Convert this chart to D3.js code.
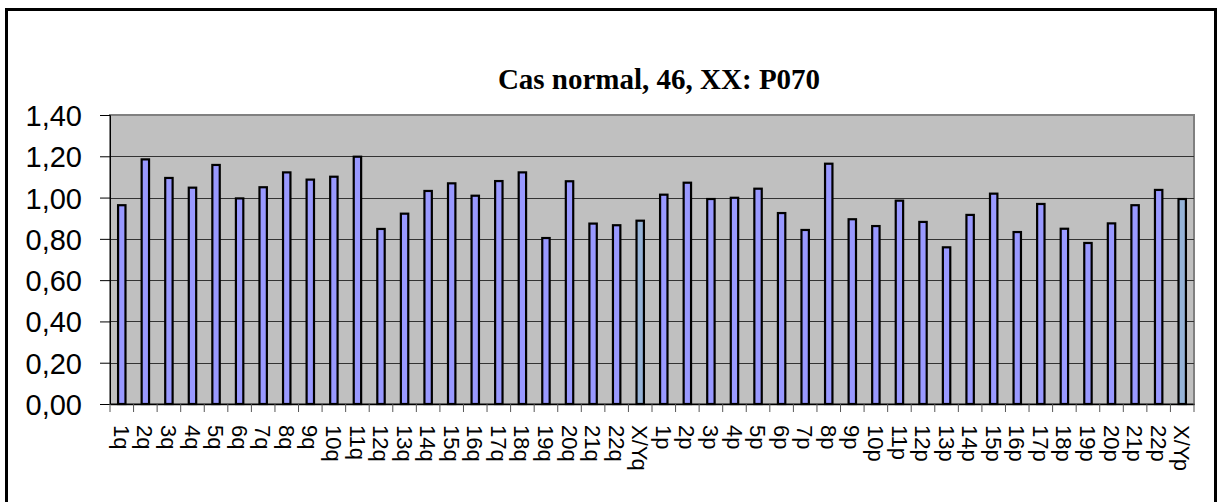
<!DOCTYPE html>
<html>
<head>
<meta charset="utf-8">
<script src="https://cdn.jsdelivr.net/npm/d3@7"></script>
<style>
  body { margin: 0; background: #fff; }
  svg { display: block; }
</style>
</head>
<body>
<script>
const width = 1218
const height = 502

const categories = ["1q","2q","3q","4q","5q","6q","7q","8q","9q","10q","11q","12q","13q","14q","15q","16q","17q","18q","19q","20q","21q","22q","X/Yq",
  "1p","2p","3p","4p","5p","6p","7p","8p","9p","10p","11p","12p","13p","14p","15p","16p","17p","18p","19p","20p","21p","22p","X/Yp"]

const values = [0.963,1.185,1.095,1.048,1.158,0.996,1.050,1.122,1.087,1.101,1.198,0.848,0.922,1.032,1.069,1.009,1.080,1.122,0.804,1.079,0.874,0.866,0.888,
  1.014,1.072,0.993,0.999,1.043,0.925,0.843,1.164,0.895,0.862,0.985,0.882,0.759,0.916,1.019,0.833,0.969,0.849,0.780,0.875,0.963,1.037,0.993]

const yTicks = [0, 0.2, 0.4, 0.6, 0.8, 1.0, 1.2, 1.4]
const title = "Cas normal, 46, XX: P070"

const plot = {left: 110, right: 1194, top: 115, bottom: 404}

const svg = d3.select("body").append("svg")
    .attr("width", width)
    .attr("height", height)

// outer chart frame
svg.append("rect")
    .attr("x", 6.5).attr("y", 9.5)
    .attr("width", 1209).attr("height", 520)
    .attr("fill", "#fff")
    .attr("stroke", "#000")
    .attr("stroke-width", 3)

const x = d3.scaleBand()
    .domain(categories)
    .range([plot.left, plot.right])

const y = d3.scaleLinear()
    .domain([0, 1.4])
    .range([plot.bottom, plot.top])

// plot background
svg.append("rect")
    .attr("x", plot.left).attr("y", plot.top)
    .attr("width", plot.right - plot.left).attr("height", plot.bottom - plot.top)
    .attr("fill", "#c0c0c0")
    .attr("stroke", "#808080")
    .attr("stroke-width", 2)

// gridlines
svg.append("g")
    .selectAll("line")
    .data(yTicks.filter(d => d > 0 && d < 1.4))
    .join("line")
    .attr("x1", plot.left).attr("x2", plot.right)
    .attr("y1", d => Math.round(y(d)) + 0.5).attr("y2", d => Math.round(y(d)) + 0.5)
    .attr("stroke", "#333")
    .attr("stroke-width", 1)

// bars
const bw = 7.4
svg.append("g")
    .selectAll("rect")
    .data(values)
    .join("rect")
    .attr("x", (d, i) => x(categories[i]) + x.bandwidth() / 2 - bw / 2)
    .attr("y", d => y(d))
    .attr("width", bw)
    .attr("height", d => y(0) - y(d))
    .attr("fill", (d, i) => categories[i].startsWith("X/Y") ? "#95b3d7" : "#9999ff")
    .attr("stroke", "#000")
    .attr("stroke-width", 2.2)

// y axis
const fmt = d => d3.format(".2f")(d).replace(".", ",")
const yAxis = svg.append("g")
    .attr("transform", `translate(${plot.left},0)`)
    .call(d3.axisLeft(y).tickValues(yTicks).tickFormat(fmt).tickSize(10).tickPadding(18))
yAxis.select(".domain").attr("stroke", "#000")
yAxis.selectAll("text")
    .attr("font-family", "Liberation Sans, Arial, sans-serif")
    .attr("font-size", 29)
    .attr("fill", "#000")
    .attr("dy", "0.36em")

// x axis
const xAxis = svg.append("g")
    .attr("transform", `translate(0,${plot.bottom})`)
    .call(d3.axisBottom(x).tickSize(0).tickPadding(0))
xAxis.select(".domain").attr("stroke", "#000").attr("stroke-width", 1.5)
xAxis.selectAll(".tick text")
    .attr("font-family", "Liberation Sans, Arial, sans-serif")
    .attr("font-size", 22)
    .attr("fill", "#000")
    .attr("text-anchor", "start")
    .attr("transform", "translate(0,21) rotate(90)")
    .attr("x", 0)
    .attr("y", 0)
    .attr("dy", "0.36em")

// category boundary ticks
svg.append("g")
    .selectAll("line")
    .data(categories.concat(["end"]))
    .join("line")
    .attr("x1", (d, i) => plot.left + i * x.step())
    .attr("x2", (d, i) => plot.left + i * x.step())
    .attr("y1", plot.bottom)
    .attr("y2", plot.bottom + 8)
    .attr("stroke", "#555")
    .attr("stroke-width", 1)

// title
svg.append("text")
    .attr("x", (plot.left + plot.right) / 2 + 7)
    .attr("y", 89)
    .attr("text-anchor", "middle")
    .attr("font-family", "Liberation Serif, Times New Roman, serif")
    .attr("font-weight", "bold")
    .attr("font-size", 29)
    .text(title)
</script>
</body>
</html>
